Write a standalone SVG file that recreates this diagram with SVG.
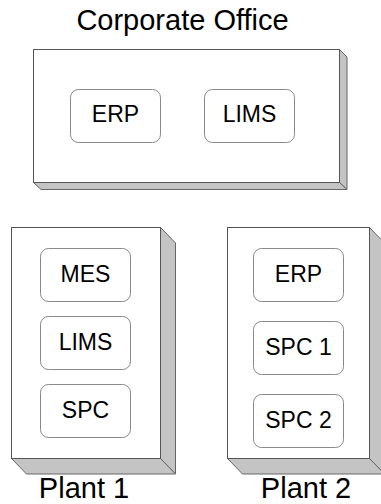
<svg xmlns="http://www.w3.org/2000/svg" width="381" height="504" viewBox="0 0 381 504">
<style>
.front{fill:#fff;stroke:#555;stroke-width:1}
.side{fill:#c4c4c4;stroke:#666;stroke-width:1;stroke-linejoin:miter}
.app{fill:#fff;stroke:#888;stroke-width:1}
.t{font-family:"Liberation Sans",Arial,sans-serif;fill:#000;text-anchor:middle}
.s{font-size:23px}
.l{font-size:29px}
</style>
<rect width="381" height="504" fill="#fff"/>
<g id="corporate">
<polygon class="side" points="339.5,49.5 347,57 347,189.5 339.5,182.5"/>
<polygon class="side" points="33.5,182.5 339.5,182.5 347,189.5 41,189.5"/>
<rect class="front" x="33.5" y="49.5" width="306" height="133"/>
<text class="t l" x="182.5" y="30">Corporate Office</text>
</g>
<g id="corp-erp">
<rect class="app" x="70.5" y="89.5" width="90" height="53" rx="8"/>
<text class="t s" x="115.5" y="122">ERP</text>
</g>
<g id="corp-lims">
<rect class="app" x="204.5" y="89.5" width="90" height="53" rx="8"/>
<text class="t s" x="249.5" y="122">LIMS</text>
</g>
<g id="plant1">
<polygon class="side" points="160.5,227.5 175.5,243 175.5,474 160.5,458.5"/>
<polygon class="side" points="11.5,458.5 160.5,458.5 175.5,474 26.5,474"/>
<rect class="front" x="11.5" y="227.5" width="149" height="231"/>
<text class="t l" x="84" y="498">Plant 1</text>
</g>
<g id="p1-mes">
<rect class="app" x="40.5" y="248.5" width="90" height="53" rx="8"/>
<text class="t s" x="85.5" y="281.5">MES</text>
</g>
<g id="p1-lims">
<rect class="app" x="40.5" y="316.5" width="90" height="53" rx="8"/>
<text class="t s" x="85.5" y="349.5">LIMS</text>
</g>
<g id="p1-spc">
<rect class="app" x="40.5" y="384.5" width="90" height="53" rx="8"/>
<text class="t s" x="85.5" y="417.5">SPC</text>
</g>
<g id="plant2">
<polygon class="side" points="369.5,227.5 384.5,243 384.5,474 369.5,458.5"/>
<polygon class="side" points="227.5,458.5 369.5,458.5 384.5,474 242.5,474"/>
<rect class="front" x="227.5" y="227.5" width="142" height="231"/>
<text class="t l" x="306" y="498">Plant 2</text>
</g>
<g id="p2-erp">
<rect class="app" x="253.5" y="248.5" width="90" height="53" rx="8"/>
<text class="t s" x="298.5" y="281.5">ERP</text>
</g>
<g id="p2-spc1">
<rect class="app" x="253.5" y="321.5" width="90" height="53" rx="8"/>
<text class="t s" x="298.5" y="354.5">SPC 1</text>
</g>
<g id="p2-spc2">
<rect class="app" x="253.5" y="394.5" width="90" height="53" rx="8"/>
<text class="t s" x="298.5" y="427.5">SPC 2</text>
</g>
<g id="connectors"/>
</svg>
